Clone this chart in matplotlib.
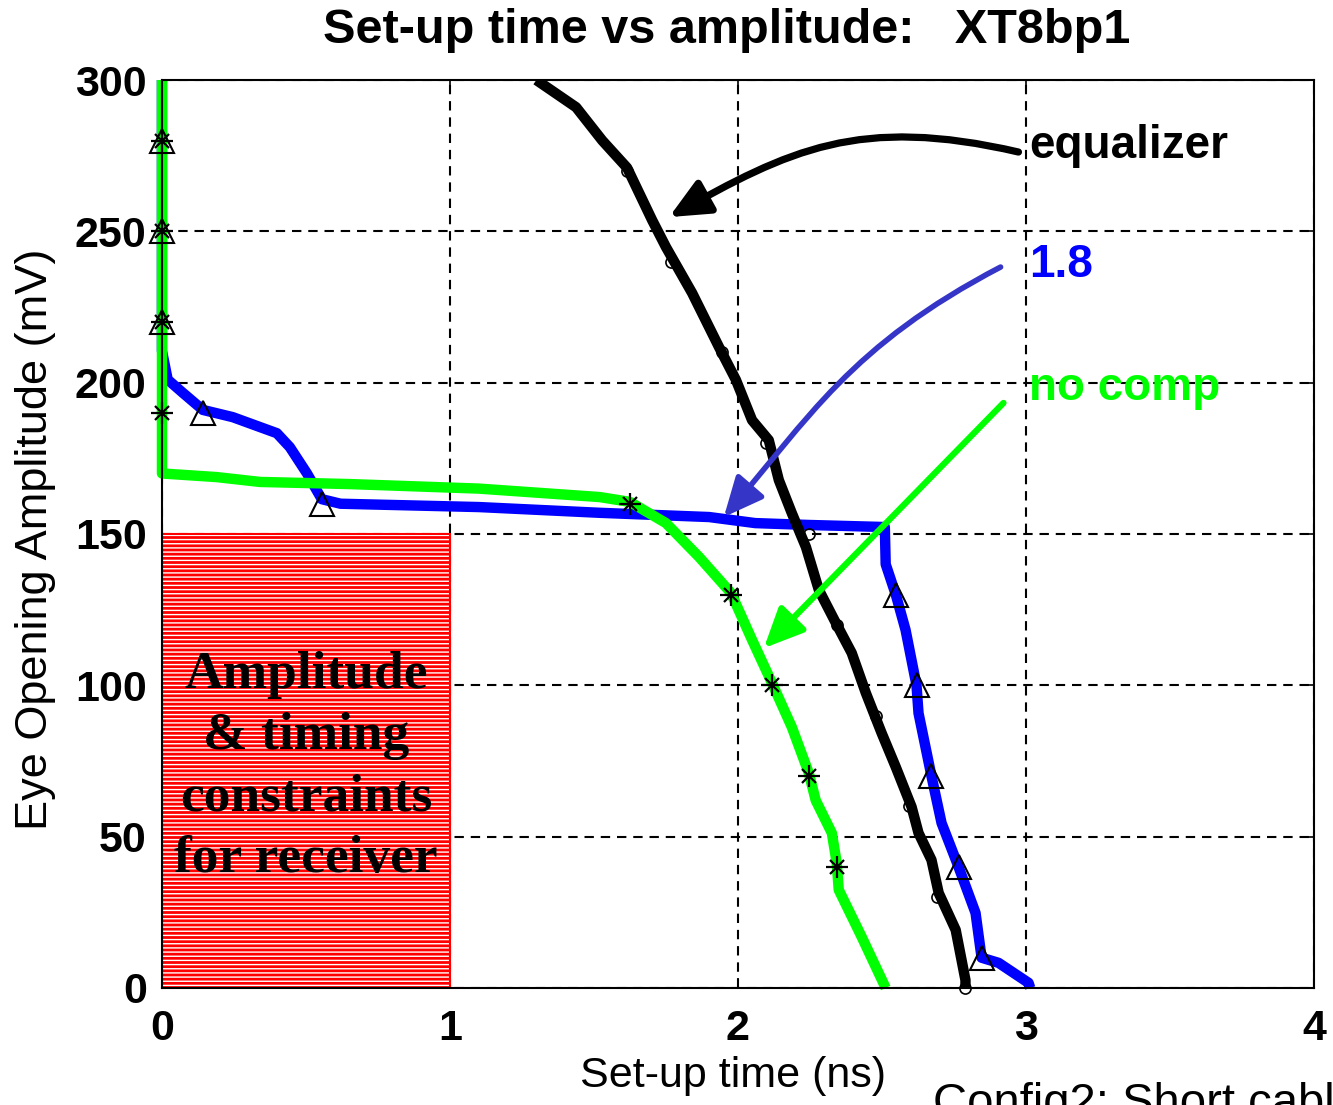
import matplotlib
matplotlib.use('Agg')
import matplotlib.pyplot as plt
from matplotlib.patches import Rectangle, FancyArrowPatch
from matplotlib.path import Path

plt.rcParams['font.family'] = ['Liberation Sans', 'DejaVu Sans']
plt.rcParams['hatch.linewidth'] = 1.0

# Curvas (tiempo de set-up en ns, amplitud en mV)
eq_t = [1.30, 1.438, 1.529, 1.615, 1.702, 1.750, 1.841, 1.934, 1.993, 2.049, 2.107,
        2.142, 2.187, 2.236, 2.281, 2.340, 2.395, 2.444, 2.499, 2.548, 2.603, 2.627,
        2.672, 2.697, 2.756, 2.790, 2.790]
eq_a = [300, 291, 280, 271, 253.7, 244.8, 229.6, 211.8, 200.9, 187.6, 181,
        167.8, 156.9, 145.7, 131.5, 120.6, 110.7, 97.5, 84.2, 73, 59.8, 51.2,
        42.3, 31.4, 19.2, 2.6, 0]

c18_t = [0, 0, 0.02, 0.073, 0.142, 0.246, 0.399, 0.444, 0.503, 0.555, 0.62, 1.10,
         1.52, 1.90, 2.06, 2.24, 2.51, 2.513, 2.548, 2.582, 2.62, 2.627, 2.672,
         2.707, 2.766, 2.825, 2.846, 2.905, 3.009, 3.015]
c18_a = [300, 210.5, 201, 196.6, 191, 188.6, 183.3, 178.7, 170.1, 161.5, 160, 158.9,
         157, 155.6, 153.6, 153, 152.3, 140, 130, 118.3, 100, 90.8, 70,
         54.5, 40, 24.8, 10, 8.3, 1.7, 0]

nc_t = [0, 0, 0.19, 0.34, 0.65, 1.10, 1.52, 1.625, 1.75, 1.865, 1.976, 2.049,
        2.118, 2.187, 2.246, 2.27, 2.326, 2.343, 2.35, 2.43, 2.513]
nc_a = [300, 170, 168.8, 167.2, 166.5, 165, 162.2, 160.6, 153.6, 142.4, 130.5, 115,
        100.8, 86.2, 71, 62, 51.2, 41.3, 32.4, 16.8, 0]

# Marcadores de cada curva
eq_mk_t = [1.615, 1.768, 1.945, 2.097, 2.246, 2.343, 2.478, 2.593, 2.69, 2.79]
eq_mk_a = [270, 240, 210, 180, 150, 120, 90, 60, 30, 0]
c18_mk_t = [0, 0, 0, 0.142, 0.555, 2.548, 2.62, 2.672, 2.766, 2.846]
c18_mk_a = [280, 250, 220, 190, 160, 130, 100, 70, 40, 10]
nc_mk_t = [0, 0, 0, 0, 1.625, 1.976, 2.118, 2.246, 2.343]
nc_mk_a = [280, 250, 220, 190, 160, 130, 100, 70, 40]

# Zona de restricciones del receptor
zona_t = 1.0
zona_a = 150

fig = plt.figure(figsize=(13.33, 11.05), dpi=100)
ax = fig.add_axes([0.1215, 0.1059, 0.8642, 0.8217])

# Caja roja con rayado blanco
ax.add_patch(Rectangle((0, 0), zona_t, zona_a, facecolor='#ff0000', edgecolor='none', zorder=1.6))
ax.add_patch(Rectangle((0, 0), zona_t, zona_a, facecolor='none', edgecolor='white',
                       hatch='----', linewidth=0, zorder=1.7))
ax.add_patch(Rectangle((0, 0), zona_t, zona_a, facecolor='none', edgecolor='#ff0000',
                       linewidth=1.5, zorder=1.8))
ax.text(0.5, 73, 'Amplitude\n& timing\nconstraints\nfor receiver', ha='center', va='center',
        fontsize=38.5, fontweight='bold', family=['Liberation Serif', 'DejaVu Serif'],
        linespacing=1.36, zorder=1.9)

lw = 7.5
ax.plot(c18_t, c18_a, color='#0000ff', lw=lw, clip_on=False, solid_capstyle='butt', zorder=2)
ax.plot(nc_t, nc_a, color='#00ff00', lw=lw, clip_on=False, solid_capstyle='butt', zorder=2.1)
ax.plot(eq_t, eq_a, color='black', lw=lw, solid_capstyle='butt', zorder=2.2)

ax.plot(c18_mk_t, c18_mk_a, ls='none', marker='^', ms=17, mfc='none', mec='black', mew=1.5,
        clip_on=False, zorder=3)
ax.plot(nc_mk_t, nc_mk_a, ls='none', marker='+', ms=16, mec='black', mew=1.6, clip_on=False, zorder=3)
ax.plot(nc_mk_t, nc_mk_a, ls='none', marker='x', ms=10, mec='black', mew=1.6, clip_on=False, zorder=3)
ax.plot(eq_mk_t, eq_mk_a, ls='none', marker='o', ms=8, mfc='none', mec='black', mew=1.2,
        clip_on=False, zorder=3)

# Flechas y etiquetas de las curvas
estilo = '-|>,head_length=1.2,head_width=0.55'
flecha_eq = Path([(2.974, 276.2), (2.419, 288.4), (2.177, 276.8), (1.761, 254.7)],
                 [Path.MOVETO, Path.CURVE4, Path.CURVE4, Path.CURVE4])
ax.add_patch(FancyArrowPatch(path=flecha_eq, arrowstyle=estilo, mutation_scale=20,
                             color='black', lw=5.2, zorder=4))
flecha_18 = Path([(2.912, 238.2), (2.389, 212.2), (2.246, 188.1), (1.951, 155.6)],
                 [Path.MOVETO, Path.CURVE4, Path.CURVE4, Path.CURVE4])
ax.add_patch(FancyArrowPatch(path=flecha_18, arrowstyle=estilo, mutation_scale=20,
                             color='#3535c8', lw=4, zorder=4))
ax.annotate('', xy=(2.09, 112.3), xytext=(2.922, 193.3),
            arrowprops=dict(arrowstyle=estilo, mutation_scale=20, color='#00ff00', lw=4.5,
                            shrinkA=0, shrinkB=0), zorder=4)

ax.text(3.01, 274.2, 'equalizer', color='black', fontsize=33, fontweight='bold', va='baseline')
ax.text(3.01, 234.9, '1.8', color='#0000ff', fontsize=33, fontweight='bold', va='baseline')
ax.text(3.01, 194.3, 'no comp', color='#00ff00', fontsize=33, fontweight='bold', va='baseline')

ax.set_xlim(0, 4)
ax.set_ylim(0, 300)
ax.set_xticks([0, 1, 2, 3, 4])
ax.set_yticks([0, 50, 100, 150, 200, 250, 300])
ax.grid(True, color='black', lw=1.5, linestyle=(0, (4.5, 3.3)))
ax.tick_params(direction='in', top=True, right=True, length=7, width=1.2, labelsize=31)
ax.tick_params(axis='x', pad=15)
ax.tick_params(axis='y', pad=11)
for lab in ax.get_xticklabels() + ax.get_yticklabels():
    lab.set_fontweight('bold')
for sp in ax.spines.values():
    sp.set_linewidth(1.5)

ax.set_xlabel('Set-up time (ns)', fontsize=31)
ax.xaxis.set_label_coords(0.496, -0.075)
ax.set_ylabel('Eye Opening Amplitude (mV)', fontsize=32.5)
ax.yaxis.set_label_coords(-0.092, 0.494)
ax.text(0.49, 1.0407, 'Set-up time vs amplitude:   XT8bp1', transform=ax.transAxes,
        ha='center', va='baseline', fontsize=35, fontweight='bold')

fig.text(0.700, -0.010, 'Config2: Short cable', fontsize=34, va='baseline', ha='left')

fig.savefig('out.png', dpi=100)
